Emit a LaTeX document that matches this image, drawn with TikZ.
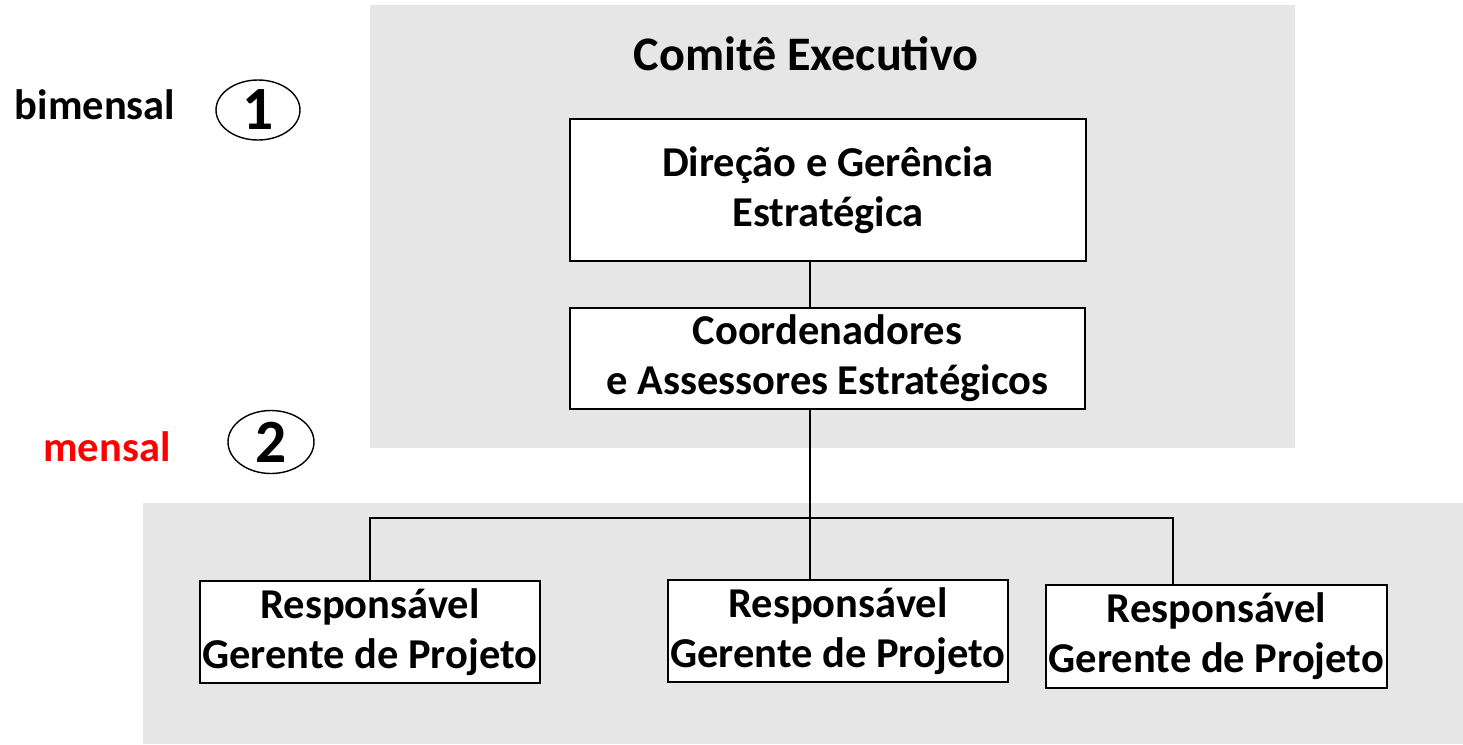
\documentclass[tikz,border=0pt]{standalone}
\usepackage{fontspec}
\setmainfont{Carlito}
\usetikzlibrary{shapes.geometric}

\definecolor{cinza}{HTML}{E6E6E6}
\definecolor{vermelho}{HTML}{FF0000}

\tikzset{
  caixa/.style={draw=black,line width=1.1pt,fill=white,rectangle,align=center,
    inner sep=0pt,font=\bfseries\fontsize{24.2}{28.6}\selectfont},
  fundo/.style={fill=cinza,draw=none},
  freq/.style={font=\bfseries\fontsize{24.2}{28}\selectfont},
  marca/.style={draw=black,line width=0.8pt,ellipse,inner sep=0pt,
    font=\bfseries\fontsize{35}{36}\selectfont},
  liga/.style={line width=0.8pt},
}

\begin{document}
\begin{tikzpicture}[x=0.02cm,y=-0.02cm]
  \useasboundingbox (0,0) rectangle (1463,744);
  % fundos
  \fill[fundo] (370,5) rectangle (1295,448);
  \fill[fundo] (143,503) rectangle (1463,744);
  \node[font=\bfseries\fontsize{27.4}{30}\selectfont] (comite) at (806,54) {Comitê Executivo};
  % caixas
  \node[caixa,minimum width=0.02*516cm,minimum height=0.02*142cm] (dir) at (828,190)
    {Direção e Gerência\\Estratégica};
  \node[caixa,minimum width=0.02*515cm,minimum height=0.02*101cm] (coord) at (827.5,358.5)
    {Coordenadores\\e Assessores Estratégicos};
  \node[caixa,minimum width=0.02*340cm,minimum height=0.02*102cm] (resp1) at (370,632)
    {Responsável\\Gerente de Projeto};
  \node[caixa,minimum width=0.02*340cm,minimum height=0.02*102cm] (resp2) at (838,631)
    {Responsável\\Gerente de Projeto};
  \node[caixa,minimum width=0.02*341cm,minimum height=0.02*103cm] (resp3) at (1216.5,636.5)
    {Responsável\\Gerente de Projeto};
  % ligacoes
  \coordinate (eixo) at (810,518);
  \coordinate (ramo) at (1173,518);
  \draw[liga] (dir.south -| eixo) -- (coord.north -| eixo);
  \draw[liga] (coord.south -| eixo) -- (resp2.north -| eixo);
  \draw[line width=1.1pt] (resp1.north) |- (ramo) -- (resp3.north -| ramo);
  % periodicidade
  \node[freq] (bim) at (95,105) {bimensal};
  \node[marca,minimum width=0.02*84cm,minimum height=0.02*60cm] (um) at (258,110) {1};
  \node[freq,text=vermelho] (men) at (107,447) {mensal};
  \node[marca,minimum width=0.02*86cm,minimum height=0.02*63cm] (dois) at (271,442) {2};
\end{tikzpicture}
\end{document}
